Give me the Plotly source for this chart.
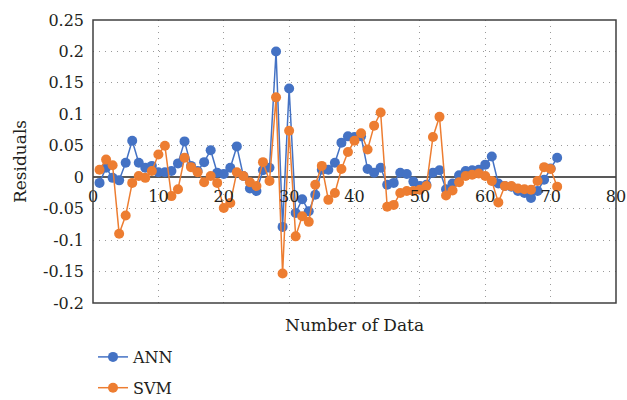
import plotly.graph_objects as go

x_idx = list(range(1, 72))

ann = [-0.009, 0.015, -0.001, -0.005, 0.023, 0.058, 0.023, 0.015, 0.018, 0.008,
       0.008, 0.010, 0.022, 0.057, 0.018, 0.010, 0.024, 0.043, 0.007, 0.005,
       0.015, 0.049, 0.002, -0.018, -0.022, 0.011, 0.015, 0.200, -0.079, 0.141,
       -0.057, -0.035, -0.054, -0.028, 0.012, 0.012, 0.023, 0.055, 0.065, 0.064,
       0.065, 0.013, 0.007, 0.015, -0.012, -0.009, 0.007, 0.005, -0.007, -0.014,
       -0.012, 0.007, 0.011, -0.019, -0.010, 0.003, 0.010, 0.011, 0.012, 0.020,
       0.033, -0.010, -0.014, -0.015, -0.022, -0.025, -0.033, -0.022, -0.004, 0.014,
       0.031]

svm = [0.012, 0.028, 0.019, -0.090, -0.061, -0.009, 0.002, -0.001, 0.010, 0.036,
       0.050, -0.030, -0.019, 0.031, 0.016, 0.008, -0.008, 0.002, -0.009, -0.049,
       -0.041, 0.008, 0.002, -0.008, -0.014, 0.024, -0.006, 0.127, -0.153, 0.074,
       -0.094, -0.062, -0.071, -0.012, 0.018, -0.036, -0.025, 0.013, 0.040, 0.058,
       0.070, 0.044, 0.082, 0.103, -0.047, -0.044, -0.025, -0.022, -0.022, -0.020,
       -0.014, 0.064, 0.096, -0.029, -0.021, -0.008, 0.002, 0.004, 0.006, 0.002,
       -0.006, -0.040, -0.014, -0.014, -0.018, -0.019, -0.020, -0.006, 0.016, 0.013,
       -0.015]

y_tickvals = [-0.2, -0.15, -0.1, -0.05, 0, 0.05, 0.1, 0.15, 0.2, 0.25]
y_ticktext = ["-0.2", "-0.15", "-0.1", "-0.05", "0", "0.05", "0.1", "0.15", "0.2", "0.25"]

BLUE = "#4472C4"
ORANGE = "#ED7D31"
FONT = "DejaVu Serif"
TXT = "#231f20"

fig = go.Figure()
fig.add_trace(go.Scatter(x=x_idx, y=ann, name="ANN", mode="lines+markers",
                         legendgroup="a",
                         line=dict(color=BLUE, width=1.5),
                         marker=dict(color=BLUE, size=10)))
fig.add_trace(go.Scatter(x=x_idx, y=svm, name="SVM", mode="lines+markers",
                         legendgroup="b",
                         line=dict(color=ORANGE, width=1.5),
                         marker=dict(color=ORANGE, size=10)))

fig.update_layout(
    width=627, height=400,
    margin=dict(l=93, r=11, t=20, b=97, autoexpand=False),
    paper_bgcolor="white", plot_bgcolor="white",
    font=dict(family=FONT, size=16, color=TXT),
    showlegend=True,
    legend=dict(x=0.0, y=0.15, xref="paper", yref="container",
                xanchor="left", yanchor="top",
                orientation="v", font=dict(family=FONT, size=16, color=TXT),
                bgcolor="rgba(0,0,0,0)", tracegroupgap=7, traceorder="grouped"),
    xaxis=dict(range=[0, 80], dtick=10, tick0=0, showgrid=True,
               gridcolor="#9a9a9a", griddash="1px,5px", gridwidth=1,
               zeroline=False, showline=False, ticks="",
               anchor="free", position=0.4444, ticklabelstandoff=8,
               tickfont=dict(family=FONT, size=16, color=TXT)),
    yaxis=dict(range=[-0.2, 0.25], showgrid=True,
               gridcolor="#9a9a9a", griddash="1px,5px", gridwidth=1,
               zeroline=True, zerolinecolor="#595959", zerolinewidth=2,
               showline=False, ticks="",
               tickvals=y_tickvals, ticktext=y_ticktext, ticklabelstandoff=8,
               tickfont=dict(family=FONT, size=16, color=TXT),
               title=dict(text="Residuals", font=dict(family=FONT, size=17, color=TXT), standoff=12)),
)

fig.add_shape(type="rect", xref="paper", yref="paper", x0=0, y0=0, x1=1, y1=1,
              line=dict(color="#404040", width=1.5), layer="above")

fig.add_annotation(text="Number of Data", xref="paper", yref="paper",
                   x=0.5, y=-0.035, xanchor="center", yanchor="top",
                   showarrow=False, font=dict(family=FONT, size=17, color=TXT))

fig.write_html("out.html")
